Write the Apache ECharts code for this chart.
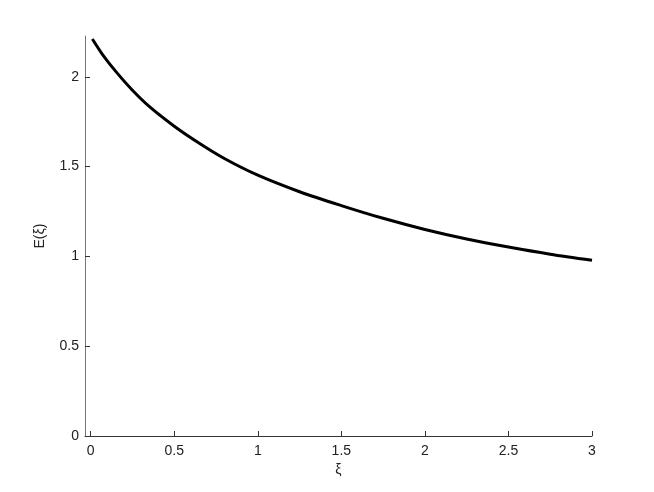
<!DOCTYPE html>
<html>
<head>
<meta charset="utf-8">
<script src="https://cdn.jsdelivr.net/npm/echarts@6/dist/echarts.min.js"></script>
<style>
  html, body { margin: 0; padding: 0; background: #fff; }
  #chart { width: 654px; height: 492px; }
</style>
</head>
<body>
<div id="chart"></div>
<script>
// values
var xi = [0.01, 0.07, 0.15, 0.25, 0.35, 0.5, 0.65, 0.8, 1.0, 1.25, 1.5, 1.75, 2.0, 2.25, 2.5, 2.75, 3.0];
var E = [2.21, 2.125, 2.03, 1.925, 1.835, 1.725, 1.63, 1.545, 1.452, 1.36, 1.283, 1.212, 1.150, 1.097, 1.052, 1.012, 0.978];
var xTicks = [0, 0.5, 1, 1.5, 2, 2.5, 3];
var yTicks = [0, 0.5, 1, 1.5, 2];

var chart = echarts.init(document.getElementById('chart'));
var pts = [];
for (var i = 0; i < xi.length; i++) {
    pts.push([xi[i], E[i]]);
}
var labelFont = { fontFamily: 'Liberation Sans', fontSize: 14, color: '#222' };

var option = {
    animation: false,
    grid: { left: 85, right: 62, top: 36, bottom: 56 },
    xAxis: {
        type: 'value',
        min: -0.034,
        max: 3,
        name: 'ξ',
        nameLocation: 'middle',
        nameGap: 26,
        nameTextStyle: labelFont,
        splitLine: { show: false },
        axisLine: { onZero: false, lineStyle: { color: '#333', width: 1 } },
        axisTick: { inside: true, length: 5, lineStyle: { color: '#333' }, customValues: xTicks },
        axisLabel: Object.assign({ margin: 8, customValues: xTicks }, labelFont)
    },
    yAxis: {
        type: 'value',
        min: 0,
        max: 2.227,
        name: 'E(ξ)',
        nameLocation: 'middle',
        nameGap: 38,
        nameTextStyle: labelFont,
        splitLine: { show: false },
        axisLine: { show: true, onZero: false, lineStyle: { color: '#777', width: 1 } },
        axisTick: { show: true, inside: true, length: 5, lineStyle: { color: '#333' }, customValues: yTicks },
        axisLabel: Object.assign({ margin: 6, customValues: yTicks }, labelFont)
    },
    series: [{
        type: 'line',
        data: pts,
        smooth: 0.3,
        symbol: 'none',
        lineStyle: { color: '#000', width: 3 }
    }]
};
chart.setOption(option);
</script>
</body>
</html>
